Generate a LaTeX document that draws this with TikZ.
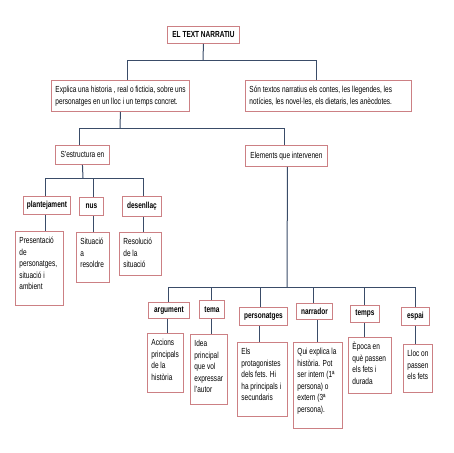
\documentclass[tikz,border=0pt]{standalone}
\usepackage{fontspec}
\setmainfont{Liberation Sans}[FakeStretch=0.74]
\usetikzlibrary{shadows}
\definecolor{boxred}{RGB}{204,128,132}
\definecolor{connblue}{RGB}{58,76,104}
\tikzset{
  box/.style={draw=boxred, line width=0.9pt, fill=white, anchor=north west,
    font=\fontsize{8.8}{11.5}\selectfont, inner sep=0pt,
    drop shadow={shadow xshift=0.7pt, shadow yshift=-0.7pt, fill=black!18, opacity=0.5}},
  hbox/.style={box, font=\fontsize{8.8}{11.5}\selectfont\bfseries},
  conn/.style={draw=connblue, line width=1pt}
}
% #1 name, #2 x1, #3 y1, #4 x2, #5 y2, #6 vertical pos (c/t), #7 text
\newcommand\mybx[7]{%
  \node[box, minimum width={(#4-#2)*1pt}, minimum height={(#5-#3)*1pt}] (#1) at (#2,#3)
  {\parbox[c][\dimexpr #5pt-#3pt-8pt\relax][#6]{\dimexpr #4pt-#2pt-8pt\relax}{\begin{tabular}[t]{@{}l@{}}#7\end{tabular}}};}
\newcommand\myhd[6]{%
  \node[hbox, minimum width={(#4-#2)*1pt}, minimum height={(#5-#3)*1pt}] (#1) at (#2,#3) {#6};}
\begin{document}
\begin{tikzpicture}[x=1pt,y=-1pt]
\useasboundingbox (0,0) rectangle (453,453);
% boxes
\myhd{title}{167}{26}{239}{43}{EL TEXT NARRATIU}
\mybx{exp}{51}{80}{189}{111}{c}{Explica una historia , real o ficticia, sobre uns\\personatges en un lloc i un temps concret.}
\mybx{son}{245}{80}{411}{111}{c}{Són textos narratius els contes, les llegendes, les\\notícies, les novel·les,  els dietaris, les anècdotes.}
\node[box, minimum width=54pt, minimum height=19pt] (estr) at (55,145) {S’estructura en};
\node[box, minimum width=82pt, minimum height=21pt] (elem) at (245,145) {Elements que intervenen};
\myhd{plant}{23}{196}{70}{214}{plantejament}
\myhd{nus}{79}{197}{103}{215}{nus}
\myhd{desen}{122}{196}{161}{216}{desenllaç}
\mybx{plantd}{15}{231}{63}{305}{t}{Presentació\\de\\personatges,\\situació i\\ambient}
\mybx{nusd}{76}{232}{109}{282}{t}{Situació\\a\\resoldre}
\mybx{desend}{119}{232}{161}{275}{t}{Resolució\\de la\\situació}
\myhd{arg}{148}{302}{189}{318}{argument}
\myhd{tema}{199}{300}{224}{318}{tema}
\myhd{pers}{239}{307}{287}{325}{personatges}
\myhd{narr}{296}{303}{332}{319}{narrador}
\myhd{temps}{350}{305}{379}{322}{temps}
\myhd{espai}{401}{307}{429}{325}{espai}
\mybx{argd}{147}{333}{183}{392}{t}{Accions\\principals\\de la\\història}
\mybx{temad}{190}{334}{227}{404}{t}{Idea\\principal\\que vol\\expressar\\l’autor}
\mybx{persd}{237}{342}{287}{416}{t}{Els\\protagonistes\\dels fets. Hi\\ha principals i\\secundaris}
\mybx{narrd}{293}{342}{342}{428}{t}{Qui explica la\\història. Pot\\ser intern (1ª\\persona) o\\extern (3ª\\persona).}
\mybx{tempsd}{348}{337}{391}{393}{t}{Època en\\què passen\\els fets i\\durada}
\mybx{espaid}{403}{344}{432}{392}{t}{Lloc on\\passen\\els fets}
% junctions
\coordinate (j1) at (203,60);
\coordinate (j2) at (120,128);
\coordinate (j3) at (83,178);
\coordinate (j4) at (287,287);
% connectors
\draw[conn] (title.south) -- (j1);
\draw[conn] ([xshift=7pt]exp.north) |- (j1);
\draw[conn] ([xshift=-12pt]son.north) |- (j1);
\draw[conn] (exp.south) -- (j2);
\draw[conn] ([xshift=-3pt]estr.north) |- (j2);
\draw[conn] ([xshift=-2pt]elem.north) |- (j2);
\draw[conn] (estr.south) -- (j3);
\draw[conn] ([xshift=-1.5pt]plant.north) |- (j3);
\draw[conn] ([xshift=2pt]nus.north) |- (j3);
\draw[conn] ([xshift=1.5pt]desen.north) |- (j3);
\draw[conn] ([xshift=-1.5pt]plant.south) -- ([xshift=-1.5pt]plant.south |- plantd.north);
\draw[conn] ([xshift=2pt]nus.south) -- ([xshift=2pt]nus.south |- nusd.north);
\draw[conn] ([xshift=1.5pt]desen.south) -- ([xshift=1.5pt]desen.south |- desend.north);
\draw[conn] ([xshift=1pt]elem.south) -- (j4);
\draw[conn] (arg.north) |- (j4);
\draw[conn] (tema.north) |- (j4);
\draw[conn] ([xshift=-3pt]pers.north) |- (j4);
\draw[conn] ([xshift=-1pt]narr.north) |- (j4);
\draw[conn] (temps.north) |- (j4);
\draw[conn] (espai.north) |- (j4);
\draw[conn] ([xshift=-1.5pt]arg.south) -- ([xshift=-1.5pt]arg.south |- argd.north);
\draw[conn] (tema.south) -- (tema.south |- temad.north);
\draw[conn] ([xshift=-4pt]pers.south) -- ([xshift=-4pt]pers.south |- persd.north);
\draw[conn] ([xshift=3pt]narr.south) -- ([xshift=3pt]narr.south |- narrd.north);
\draw[conn] (temps.south) -- (temps.south |- tempsd.north);
\draw[conn] (espai.south) -- (espai.south |- espaid.north);
\end{tikzpicture}
\end{document}
